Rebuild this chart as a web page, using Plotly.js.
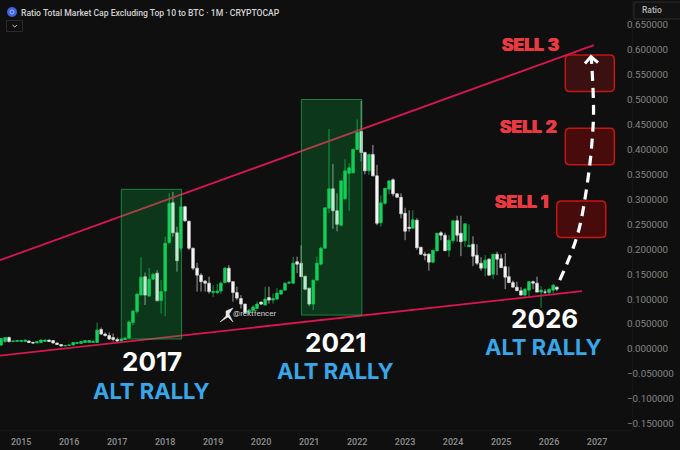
<!DOCTYPE html>
<html><head><meta charset="utf-8">
<script src="https://cdn.plot.ly/plotly-3.0.1.min.js"></script>
<style>html,body{margin:0;padding:0;background:#0f0f0f}#c{width:680px;height:450px}</style>
</head><body><div id="c"></div>
<script>
// monthly candles, first month 2014-08
var startYear = 2014, startMonth = 8;
var opens = [.008,.015,.023,.015,.015,.015,.015,.016,.013,.012,.013,.015,.018,.017,.012,.009,.006,.007,.008,.011,.011,.013,.013,.013,.013,.039,.030,.027,.023,.019,.016,.019,.022,.053,.075,.108,.145,.106,.140,.152,.097,.116,.213,.293,.233,.202,.285,.256,.202,.162,.148,.136,.132,.113,.113,.116,.133,.162,.135,.113,.101,.090,.073,.077,.081,.094,.088,.103,.098,.100,.110,.118,.132,.132,.175,.172,.146,.122,.090,.138,.170,.202,.282,.321,.277,.248,.301,.352,.353,.400,.436,.394,.357,.390,.347,.253,.292,.320,.339,.311,.304,.272,.244,.242,.258,.204,.190,.190,.174,.197,.233,.228,.198,.217,.257,.232,.217,.205,.210,.188,.172,.162,.180,.150,.190,.181,.165,.145,.133,.124,.117,.108,.118,.135,.132,.114,.114,.113,.118,.124];
var closes = [.021,.023,.015,.016,.017,.017,.018,.013,.012,.015,.018,.018,.015,.012,.009,.006,.007,.008,.013,.013,.015,.017,.017,.015,.038,.030,.027,.020,.019,.016,.020,.022,.054,.076,.110,.144,.108,.140,.150,.097,.115,.212,.292,.233,.177,.285,.257,.202,.162,.148,.135,.132,.115,.115,.116,.132,.162,.135,.113,.102,.090,.073,.078,.084,.090,.090,.100,.098,.101,.112,.118,.132,.134,.172,.170,.145,.120,.090,.138,.172,.202,.283,.321,.277,.250,.337,.357,.363,.400,.434,.394,.357,.390,.347,.252,.293,.322,.337,.311,.304,.271,.236,.242,.259,.203,.190,.188,.174,.198,.232,.228,.197,.218,.257,.228,.215,.251,.208,.186,.172,.162,.178,.148,.190,.180,.163,.144,.133,.124,.117,.108,.120,.135,.132,.114,.118,.114,.120,.128,.120];
var highs = [.022,.024,.025,.017,.018,.018,.019,.017,.015,.016,.019,.019,.018,.017,.013,.010,.007,.009,.014,.014,.016,.018,.018,.018,.053,.043,.033,.033,.031,.023,.021,.023,.057,.078,.112,.184,.153,.162,.152,.158,.138,.225,.312,.315,.245,.304,.287,.257,.203,.173,.152,.138,.145,.128,.130,.135,.164,.168,.135,.125,.108,.091,.080,.088,.095,.095,.125,.125,.111,.122,.118,.133,.134,.185,.185,.208,.146,.122,.138,.185,.205,.283,.441,.371,.312,.335,.380,.372,.402,.460,.497,.395,.377,.409,.369,.308,.292,.332,.342,.312,.312,.283,.278,.278,.262,.204,.195,.192,.198,.197,.236,.233,.228,.218,.267,.267,.232,.250,.226,.210,.184,.188,.182,.178,.195,.190,.192,.165,.137,.135,.124,.122,.124,.137,.145,.126,.120,.116,.130,.125];
var lows = [.006,.013,.013,.014,.014,.014,.015,.012,.011,.012,.013,.014,.014,.011,.008,.005,.006,.007,.007,.012,.011,.012,.013,.013,.013,.028,.025,.018,.015,.014,.015,.018,.020,.048,.071,.108,.088,.105,.138,.095,.071,.066,.212,.225,.155,.195,.255,.198,.158,.115,.115,.115,.111,.104,.110,.111,.132,.132,.095,.098,.081,.071,.071,.075,.080,.088,.088,.091,.091,.098,.108,.117,.130,.130,.152,.145,.118,.086,.078,.138,.168,.201,.272,.241,.236,.246,.299,.277,.400,.400,.376,.350,.349,.346,.248,.245,.289,.310,.306,.304,.262,.218,.235,.242,.199,.188,.178,.157,.172,.195,.218,.200,.185,.212,.215,.186,.205,.205,.166,.168,.157,.146,.155,.140,.148,.165,.120,.138,.135,.120,.115,.105,.105,.120,.130,.082,.110,.110,.112,.116];

var tickYears = [2015,2016,2017,2018,2019,2020,2021,2022,2023,2024,2025,2026,2027];
var priceTicks = [-.15,-.1,-.05,0,.05,.1,.15,.2,.25,.3,.35,.4,.45,.5,.55,.6,.65];
var upperLineDates = ['2014-07-24','2026-12-08'], upperLineValues = [.178,.609];
var lowerLineDates = ['2014-07-24','2026-09-08'], lowerLineValues = [-.0134,.116];
var rallyStarts = ['2017-02-01','2020-11-03'], rallyEnds = ['2018-05-06','2022-02-06'];
var rallyTops = [.320,.500], rallyBottoms = [.020,.068];
var sellCentersX = ['2026-11-07','2026-11-07','2026-09-03'];
var sellCentersY = [.5528,.4058,.2598];
var arrowDates = ['2026-03-23','2026-06-08','2026-08-04','2026-09-07','2026-11-08','2026-12-04','2026-12-04','2026-11-21','2026-11-16'];
var arrowValues = [.138,.185,.228,.265,.372,.459,.499,.573,.585];
var headDates = ['2026-10-01','2026-11-16','2027-01-08'];
var headValues = [.572,.586,.574];

var BG='#0f0f0f', W=680,H=450,R=48,B=20, PW=W-R, PH=H-B;
function two(n){return (n<10?'0':'')+n;}
var dates=opens.map(function(_,i){var m=startMonth-1+i;return (startYear+Math.floor(m/12))+'-'+two(m%12+1)+'-01';});
var px=function(x){return x/PW;}, py=function(y){return (PH-y)/PH;};

var traces=[
 {type:'scatter',mode:'lines',x:upperLineDates,y:upperLineValues,line:{color:'#d9164f',width:1.8},hoverinfo:'skip'},
 {type:'scatter',mode:'lines',x:lowerLineDates,y:lowerLineValues,line:{color:'#d9164f',width:1.8},hoverinfo:'skip'},
 {type:'candlestick',x:dates,open:opens,high:highs,low:lows,close:closes,whiskerwidth:0,
  increasing:{line:{color:'#12cf5a',width:.7},fillcolor:'#12d65c'},
  decreasing:{line:{color:'#e0e0e0',width:.7},fillcolor:'#f7f7f7'},hoverinfo:'skip'},
 {type:'scatter',mode:'lines',x:arrowDates,y:arrowValues,line:{color:'#ffffff',width:3.2,dash:'10px,7px',shape:'spline'},hoverinfo:'skip'},
 {type:'scatter',mode:'lines',x:headDates,y:headValues,line:{color:'#ffffff',width:3},hoverinfo:'skip'}
];

var shapes=[];
rallyStarts.forEach(function(s,i){
 shapes.push({type:'rect',layer:'above',xref:'x',yref:'y',x0:s,x1:rallyEnds[i],y0:rallyBottoms[i],y1:rallyTops[i],
  fillcolor:'rgba(10,200,70,0.22)',line:{color:'rgba(40,190,90,0.6)',width:1}});
});
function rr(w,h,r){var a=w/2,b=h/2;return 'M '+(-a+r)+' '+(-b)+' L '+(a-r)+' '+(-b)+' Q '+a+' '+(-b)+' '+a+' '+(-b+r)+' L '+a+' '+(b-r)+' Q '+a+' '+b+' '+(a-r)+' '+b+' L '+(-a+r)+' '+b+' Q '+(-a)+' '+b+' '+(-a)+' '+(b-r)+' L '+(-a)+' '+(-b+r)+' Q '+(-a)+' '+(-b)+' '+(-a+r)+' '+(-b)+' Z';}
sellCentersX.forEach(function(x,i){
 shapes.push({type:'path',layer:'below',xref:'x',yref:'y',xsizemode:'pixel',ysizemode:'pixel',xanchor:x,yanchor:sellCentersY[i],
  path:rr(49,36.5,4.5),fillcolor:i==0?'#3a1010':'#470b0b',line:{color:'#c51616',width:1.5}});
});
// header furniture
shapes.push({type:'circle',xref:'paper',yref:'paper',x0:px(7),x1:px(17),y0:py(17),y1:py(7),fillcolor:'#3d62e6',line:{width:0}});
shapes.push({type:'circle',xref:'paper',yref:'paper',x0:px(10),x1:px(14),y0:py(14),y1:py(10),fillcolor:'rgba(0,0,0,0)',line:{color:'#a9bcf5',width:1}});
shapes.push({type:'rect',xref:'paper',yref:'paper',x0:px(6.5),x1:px(22.5),y0:py(31.5),y1:py(20.5),fillcolor:BG,line:{color:'#2a2a2a',width:1}});
shapes.push({type:'path',xref:'paper',yref:'paper',path:'M '+px(12.5)+' '+py(25)+' L '+px(14.8)+' '+py(27)+' L '+px(17)+' '+py(25),fillcolor:'rgba(0,0,0,0)',line:{color:'#c8c8c8',width:1}});
shapes.push({type:'rect',xref:'paper',yref:'paper',x0:px(634),x1:px(682),y0:py(19),y1:py(2),fillcolor:'#121212',line:{color:'#2c2c2c',width:1}});
// watermark figure
shapes.push({type:'path',xref:'paper',yref:'paper',path:'M '+px(220)+' '+py(322)+' L '+px(226)+' '+py(316)+' L '+px(226)+' '+py(311)+' L '+px(233)+' '+py(308)+' L '+px(229)+' '+py(314)+' L '+px(233)+' '+py(322)+' L '+px(228)+' '+py(317)+' Z',fillcolor:'#e8e8e8',line:{color:'#e8e8e8',width:.5}});

function note(t,x,y,size,color,family,weight,anchor,shadow){
 var f={size:size,color:color,family:family,weight:weight};
 if(shadow) f.shadow=shadow;
 return {text:t,xref:'paper',yref:'paper',x:px(x),y:py(y),xanchor:anchor||'center',yanchor:'middle',showarrow:false,font:f};
}
var big='Inter, sans-serif', blue='#38a7ea', red='#e83a40';
var fat='0.5px 0 0 '+red+', -0.5px 0 0 '+red+', 0 0.4px 0 '+red+', 0 -0.4px 0 '+red;
var annotations=[
 note('Ratio Total Market Cap Excluding Top 10 to BTC · 1M · CRYPTOCAP',19,12.5,8.6,'#d4d4d4','Roboto, sans-serif',500,'left'),
 note('Ratio',640,10,8.5,'#b8b8b8','Roboto, sans-serif',500,'left'),
 note('@rektfencer',255,314,8,'#cfcfcf','Roboto, sans-serif',400),
 note('2017',151.7,361,26,'#ffffff',big,700),
 note('ALT RALLY',151.7,390.7,22,blue,big,700),
 note('2021',336.5,342,26,'#ffffff',big,700),
 note('ALT RALLY',336,371,22,blue,big,700),
 note('2026',544,318,26,'#ffffff',big,700),
 note('ALT RALLY',543.7,347,22,blue,big,700),
 note('SELL 3',530,44.5,17.5,red,big,800,'center',fat),
 note('SELL 2',528.7,126.7,17.5,red,big,800,'center',fat),
 note('SELL 1',522,201.7,17.5,red,big,800,'center',fat)
];

var layout={width:W,height:H,margin:{l:0,r:R,t:0,b:B,pad:0},paper_bgcolor:BG,plot_bgcolor:BG,showlegend:false,boxgap:.28,boxgroupgap:0,
 xaxis:{type:'date',range:['2014-07-24','2027-09-24'],tickmode:'array',tickvals:tickYears.map(function(y){return y+'-01-01';}),ticktext:tickYears.map(String),
  tickfont:{size:9,color:'#8f8f8f',family:'Roboto, sans-serif',weight:500},showgrid:false,zeroline:false,showline:true,linecolor:'#161616',ticks:'',ticklabelstandoff:3,rangeslider:{visible:false},fixedrange:true},
 yaxis:{side:'right',range:[-.1623,.6994],tickmode:'array',tickvals:priceTicks,ticktext:priceTicks.map(function(v){return (v<0?'\u2212':'')+Math.abs(v).toFixed(6);}),
  tickfont:{size:9.8,color:'#858585',family:'Roboto, sans-serif'},showgrid:false,zeroline:false,showline:true,linecolor:'#161616',ticks:'',ticklabelstandoff:-8,fixedrange:true},
 shapes:shapes,annotations:annotations};
Plotly.newPlot('c',traces,layout,{displayModeBar:false,staticPlot:true});
</script></body></html>
